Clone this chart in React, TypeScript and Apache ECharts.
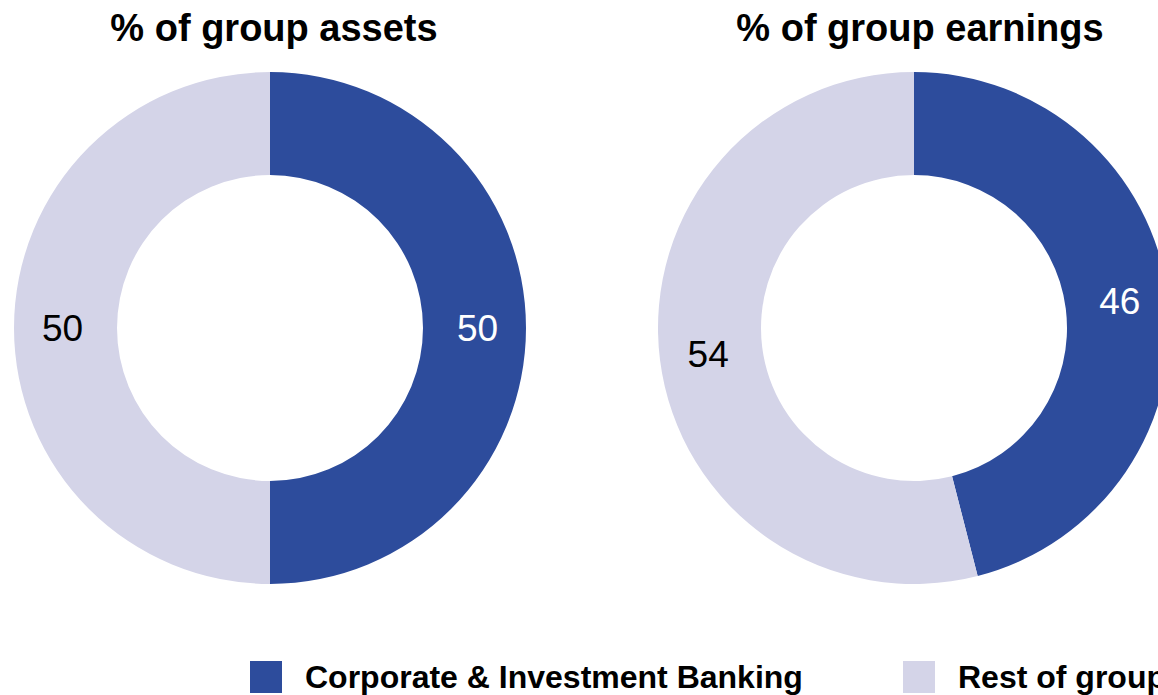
import React, { useEffect, useRef } from "react";
import * as echarts from "echarts";

const categories = ["Corporate & Investment Banking", "Rest of group"];
const assetsValues = [50, 50];
const earningsValues = [46, 54];
const titles = ["% of group assets", "% of group earnings"];
const colors = ["#2D4C9C", "#D4D4E8"];
const labelColors = ["#FFFFFF", "#000000"];

const FONT = "Arial, 'Liberation Sans', sans-serif";

export default function App() {
  const ref = useRef<HTMLDivElement>(null);
  useEffect(() => {
    if (!ref.current) return;
    const chart = echarts.init(ref.current, undefined, { renderer: "svg" });
    const mkData = (vals: number[]) =>
      vals.map((v, i) => ({
        name: categories[i],
        value: v,
        itemStyle: { color: colors[i] },
        label: { color: labelColors[i] },
      }));
    const mkSeries = (vals: number[], cx: number) => ({
      type: "pie",
      center: [cx, 328],
      radius: [153, 256],
      startAngle: 90,
      clockwise: true,
      silent: true,
      label: {
        show: true,
        position: "inside",
        formatter: "{c}",
        fontSize: 37,
        fontFamily: FONT,
      },
      labelLine: { show: false },
      data: mkData(vals),
    });
    const titleStyle = { fontSize: 38, fontWeight: "bold", color: "#000", fontFamily: FONT };
    const legendText = {
      fontSize: 32,
      fontWeight: "bold",
      color: "#000",
      fontFamily: FONT,
      padding: [0, 0, 0, 18],
    };
    const legendLefts = [250, 903];
    chart.setOption({
      animation: false,
      title: [
        { text: titles[0], left: 269, top: 4, textAlign: "center", textStyle: titleStyle },
        { text: titles[1], left: 915, top: 4, textAlign: "center", textStyle: titleStyle },
      ],
      legend: categories.map((c, i) => ({
        data: [c],
        left: legendLefts[i],
        top: 661,
        padding: 0,
        itemWidth: 32,
        itemHeight: 32,
        icon: "rect",
        selectedMode: false,
        textStyle: legendText,
      })),
      series: [mkSeries(assetsValues, 270), mkSeries(earningsValues, 914)],
    });
    return () => chart.dispose();
  }, []);
  return (
    <div
      ref={ref}
      style={{ position: "fixed", left: 0, top: 0, width: 1158, height: 695, background: "#fff" }}
    />
  );
}
